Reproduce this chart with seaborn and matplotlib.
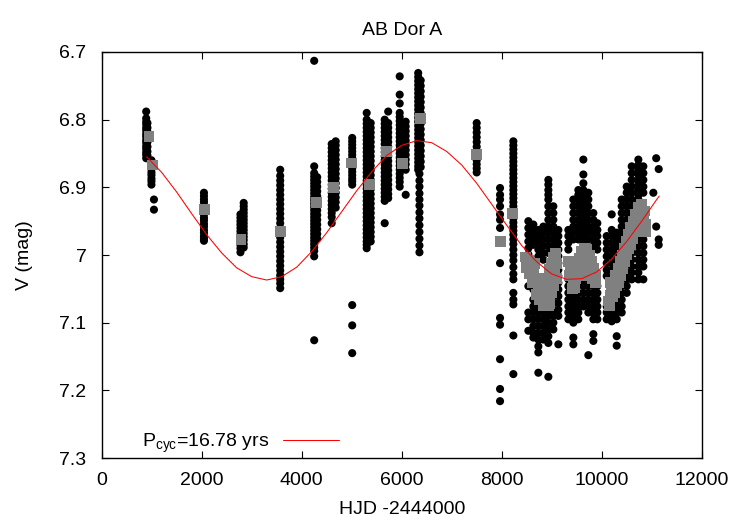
"""AB Dor A: V-band light curve with seasonal means and cycle fit."""
import numpy as np
import pandas as pd
import matplotlib
matplotlib.use("Agg")
import matplotlib.pyplot as plt
import seaborn as sns
from matplotlib.ticker import FuncFormatter, MultipleLocator

sns.set_theme(style="ticks")
plt.rcParams["font.family"] = ["Liberation Sans", "DejaVu Sans"]
plt.rcParams["mathtext.default"] = "regular"
plt.rcParams["font.size"] = 14
plt.rcParams.update({"text.color": "black", "axes.labelcolor": "black",
                     "xtick.color": "black", "ytick.color": "black"})

# --- photometry, one entry per observing column (HJD-2444000, list of V mags)
early_hjd = [890, 915, 995, 1045, 2045, 2775, 2840, 3570, 4250, 4310,
             4600, 4680, 5010, 5300, 5380, 5660, 5730, 5960, 6080,
             6330, 6380, 6355]
early_v = [
    [6.788, 6.798, 6.803, 6.807, 6.812, 6.816, 6.821, 6.825, 6.830, 6.834, 6.839, 6.843, 6.848, 6.852, 6.857],
    [6.805, 6.812, 6.818, 6.826, 6.833, 6.840, 6.847, 6.853],
    [6.860, 6.864, 6.869, 6.873, 6.878, 6.882, 6.887, 6.891, 6.896],
    [6.918, 6.933],
    [6.908, 6.913, 6.918, 6.922, 6.927, 6.931, 6.936, 6.940, 6.945, 6.949, 6.954, 6.958, 6.963, 6.967, 6.972, 6.976, 6.979],
    [6.940, 6.945, 6.950, 6.955, 6.960, 6.965, 6.970, 6.975, 6.980, 6.985, 6.990, 6.996],
    [6.923, 6.928, 6.933, 6.938, 6.943, 6.948, 6.953, 6.958, 6.963, 6.968, 6.973, 6.978, 6.984, 6.989],
    [6.874, 6.883, 6.890, 6.897, 6.904, 6.911, 6.918, 6.925, 6.932, 6.939, 6.946, 6.953, 6.960,
     6.967, 6.974, 6.981, 6.988, 6.995, 7.002, 7.009, 7.016, 7.023, 7.030, 7.036, 7.042, 7.049],
    [6.713, 6.869, 6.879, 6.884, 6.889, 6.894, 6.899, 6.904, 6.909, 6.914, 6.919, 6.924, 6.929, 6.934,
     6.939, 6.944, 6.949, 6.954, 6.959, 6.964, 6.969, 6.974, 6.979, 6.984, 6.989, 6.994, 7.002, 7.126],
    [6.885, 6.892, 6.899, 6.906, 6.913, 6.920, 6.927, 6.934, 6.941, 6.948, 6.955, 6.962, 6.969, 6.976],
    [6.836, 6.842, 6.848, 6.854, 6.860, 6.866, 6.872, 6.878, 6.884, 6.890, 6.896, 6.902, 6.908, 6.914,
     6.920, 6.926, 6.932, 6.938, 6.944, 6.953],
    [6.832, 6.838, 6.845, 6.852, 6.859, 6.866, 6.873, 6.880, 6.887, 6.894, 6.901, 6.908, 6.915, 6.922, 6.930],
    [6.827, 6.832, 6.837, 6.842, 6.847, 6.852, 6.857, 6.862, 6.867, 6.872, 6.877, 6.882, 6.887, 6.891,
     6.896, 7.074, 7.104, 7.145],
    [6.790, 6.800, 6.806, 6.812, 6.818, 6.824, 6.830, 6.836, 6.842, 6.848, 6.854, 6.860, 6.866, 6.872,
     6.878, 6.884, 6.890, 6.896, 6.902, 6.908, 6.914, 6.920, 6.926, 6.932, 6.938, 6.944, 6.950, 6.956,
     6.962, 6.968, 6.974, 6.980, 6.985, 6.990],
    [6.805, 6.812, 6.819, 6.826, 6.833, 6.840, 6.847, 6.854, 6.861, 6.868, 6.875, 6.882, 6.889, 6.896,
     6.903, 6.910, 6.917, 6.924, 6.931, 6.938, 6.945, 6.952, 6.959, 6.966, 6.973, 6.980],
    [6.800, 6.806, 6.812, 6.818, 6.824, 6.830, 6.836, 6.842, 6.848, 6.854, 6.860, 6.866, 6.872, 6.878,
     6.884, 6.890, 6.896, 6.902, 6.908, 6.914, 6.920, 6.953],
    [6.788, 6.805, 6.812, 6.819, 6.826, 6.833, 6.840, 6.847, 6.854, 6.861, 6.868, 6.875, 6.882, 6.889,
     6.896, 6.903, 6.910, 6.916],
    [6.736, 6.763, 6.776, 6.790, 6.796, 6.802, 6.808, 6.814, 6.820, 6.826, 6.832, 6.838, 6.844, 6.850,
     6.856, 6.862, 6.868, 6.874, 6.880, 6.886, 6.892, 6.899],
    [6.803, 6.810, 6.817, 6.824, 6.831, 6.838, 6.845, 6.852, 6.859, 6.866, 6.874, 6.911],
    [6.731, 6.737, 6.743, 6.749, 6.755, 6.761, 6.767, 6.773, 6.779, 6.785, 6.791, 6.797, 6.803, 6.809,
     6.815, 6.821, 6.827, 6.833, 6.839, 6.845, 6.851, 6.857, 6.863, 6.869, 6.874],
    [6.742, 6.750, 6.758, 6.766, 6.774, 6.782, 6.790, 6.798, 6.806, 6.814, 6.822, 6.830, 6.838, 6.846,
     6.854, 6.862, 6.870],
    [6.880, 6.890, 6.899, 6.909, 6.918, 6.927, 6.937, 6.946, 6.956, 6.966, 6.976, 6.986, 6.996],
]

late_hjd = [7500, 7967, 8233,
            8533, 8633, 8733, 8833, 8933, 9033, 9133,
            9333, 9433, 9533, 9633, 9733, 9833, 9913,
            10100, 10200, 10300, 10400, 10500,
            10600, 10733, 10833, 11033, 11090, 11140]
late_v = [
    [6.805, 6.812, 6.819, 6.826, 6.833, 6.840, 6.847, 6.853, 6.860, 6.866, 6.872, 6.878],
    [6.901, 6.911, 6.918, 6.928, 6.940, 6.948, 6.960, 7.012, 7.093, 7.103, 7.154, 7.198, 7.216],
    [6.832, 6.838, 6.844, 6.850, 6.856, 6.862, 6.868, 6.874, 6.880, 6.886, 6.892, 6.898, 6.904, 6.910,
     6.916, 6.922, 6.928, 6.934, 6.940, 6.946, 6.952, 6.958, 6.964, 6.970, 6.977, 6.984, 6.992, 7.000,
     7.008, 7.018, 7.028, 7.036, 7.056, 7.066, 7.073, 7.119, 7.176],
    [6.950, 6.960, 6.970, 6.980, 6.990, 6.999, 7.046, 7.085, 7.095, 7.112],
    [6.955, 6.965, 6.975, 6.985, 7.026, 7.036, 7.051, 7.066, 7.076, 7.085, 7.095, 7.105, 7.115, 7.122],
    [6.963, 6.972, 6.982, 6.992, 7.002, 7.066, 7.076, 7.085, 7.095, 7.105, 7.115, 7.125, 7.135, 7.144, 7.174],
    [6.958, 6.967, 6.977, 6.987, 6.997, 7.007, 7.076, 7.085, 7.095, 7.105, 7.115, 7.125],
    [6.889, 6.896, 6.904, 6.911, 6.918, 6.928, 6.938, 6.948, 6.958, 6.967, 6.977, 6.987, 6.997,
     7.081, 7.090, 7.100, 7.110, 7.120, 7.130, 7.180],
    [6.928, 6.938, 6.948, 6.958, 6.967, 6.977, 6.987, 7.051, 7.061, 7.071, 7.081, 7.090, 7.100, 7.110],
    [6.963, 6.972, 6.982, 6.992, 7.002, 7.012, 7.022, 7.031, 7.041, 7.051, 7.061, 7.071, 7.081, 7.090, 7.132],
    [6.963, 6.972, 6.982, 6.992, 7.036, 7.046, 7.056, 7.066, 7.076, 7.085, 7.095],
    [6.918, 6.928, 6.938, 6.948, 6.958, 6.967, 6.977, 7.051, 7.061, 7.071, 7.081, 7.090, 7.100, 7.122, 7.132],
    [6.904, 6.911, 6.918, 6.928, 6.938, 6.948, 6.958, 6.967, 6.977, 7.056, 7.066, 7.076, 7.085, 7.095],
    [6.859, 6.881, 6.894, 6.904, 6.913, 6.923, 6.933, 6.943, 6.953, 6.963, 6.972, 6.982,
     7.036, 7.046, 7.056, 7.066, 7.076],
    [6.908, 6.918, 6.928, 6.938, 6.948, 6.958, 6.967, 6.977, 7.036, 7.046, 7.056, 7.066, 7.076, 7.085, 7.148],
    [6.938, 6.948, 6.958, 6.967, 6.977, 6.987, 7.036, 7.046, 7.056, 7.066, 7.076, 7.085, 7.095, 7.117, 7.127],
    [6.953, 6.963, 6.972, 6.982, 6.992, 7.046, 7.056, 7.066, 7.076, 7.085, 7.095],
    [6.972, 6.982, 6.992, 7.002, 7.012, 7.022, 7.031, 7.076, 7.085, 7.095],
    [6.940, 6.963, 6.972, 6.982, 6.992, 7.002, 7.012, 7.022, 7.081, 7.090, 7.098],
    [6.967, 6.977, 6.987, 6.997, 7.007, 7.066, 7.076, 7.085, 7.095, 7.120, 7.134],
    [6.918, 6.928, 6.938, 6.948, 6.958, 6.967, 6.977, 6.987, 7.046, 7.056, 7.066, 7.076, 7.085],
    [6.899, 6.908, 6.918, 6.928, 6.938, 6.948, 6.958, 6.967, 7.026, 7.036, 7.046, 7.056],
    [6.869, 6.879, 6.889, 6.899, 6.908, 6.918, 6.928, 6.938, 6.948, 6.997, 7.007, 7.017, 7.026, 7.036],
    [6.859, 6.867, 6.874, 6.881, 6.889, 6.896, 6.904, 6.911, 6.918, 6.928, 6.977, 6.987, 6.997,
     7.007, 7.017, 7.026, 7.036],
    [6.869, 6.879, 6.889, 6.899, 6.908, 6.967, 6.977, 6.987, 6.997, 7.007, 7.017, 7.036],
    [6.908],
    [6.857, 6.958],
    [6.873, 6.977, 6.985],
]

# --- seasonal / nightly means (grey squares)
mean_hjd = [946, 1013, 2053, 2786, 3573, 4300, 4633, 5000, 5347, 5700, 6013, 6367, 7500, 7967, 8220,
            # 1990s run, first dip
            8470, 8530, 8580, 8630, 8680, 8730, 8780, 8830, 8880, 8930, 8960, 8900, 8930, 8960,
            9000, 9040, 9080, 9000, 9060, 8750, 8820, 8650,
            8500, 8560, 8620, 8700, 8760, 8830, 8900, 8960, 9000, 9040, 9090, 9100,
            # second dip
            9330, 9370, 9400, 9430, 9460, 9500, 9550, 9600, 9650, 9700, 9750, 9800, 9840, 9870,
            9620, 9700, 9760, 9480,
            9350, 9420, 9550, 9650, 9750, 9820, 9880, 9600,
            # rise
            10130, 10170, 10200, 10240, 10280, 10330, 10370, 10410, 10450, 10500, 10540, 10580,
            10630, 10680, 10730, 10800, 10850, 10880, 10170, 10250, 10330, 10420, 10500, 10580,
            10650, 10720,
            10150, 10210, 10290, 10370, 10450, 10530, 10610, 10690, 10760, 10830, 10870]
mean_v = [6.825, 6.867, 6.933, 6.977, 6.965, 6.922, 6.900, 6.864, 6.896, 6.847, 6.865, 6.798, 6.852, 6.980, 6.939,
          7.003, 7.008, 7.018, 7.028, 7.040, 7.050, 7.058, 7.065, 7.072, 7.075, 7.062, 7.050, 7.036, 7.022,
          7.012, 7.003, 6.998, 7.040, 7.025, 7.035, 7.045, 7.012,
          7.018, 7.028, 7.040, 7.058, 7.066, 7.074, 7.075, 7.072, 7.055, 7.045, 7.012, 7.035,
          7.010, 7.020, 7.030, 7.040, 7.048, 7.020, 7.005, 6.995, 6.990, 6.992, 7.000, 7.010, 7.020, 7.030,
          7.015, 7.020, 7.025, 7.035,
          7.030, 7.050, 7.020, 7.005, 7.012, 7.035, 7.040, 7.030,
          7.068, 7.060, 7.050, 7.040, 7.030, 7.020, 7.010, 7.000, 6.990, 6.980, 6.970, 6.960,
          6.950, 6.940, 6.930, 6.925, 6.935, 6.955, 7.040, 7.055, 7.040, 7.020, 7.000, 6.985,
          6.965, 6.950,
          7.075, 7.062, 7.045, 7.030, 7.010, 6.990, 6.975, 6.958, 6.945, 6.945, 6.965]

# --- cycle fit
fit_hjd = [900, 1200, 1500, 1800, 2100, 2400, 2700, 3000, 3300, 3600, 3900, 4200, 4500, 4800,
           5100, 5400, 5700, 6000, 6300, 6600, 6900, 7200, 7500, 7800, 8100, 8400, 8700, 9000,
           9300, 9600, 9900, 10200, 10500, 10800, 11100, 11150]
fit_v = [6.855, 6.878, 6.907, 6.939, 6.970, 6.997, 7.019, 7.032, 7.037, 7.032, 7.018, 6.995,
         6.967, 6.936, 6.905, 6.877, 6.853, 6.838, 6.831, 6.834, 6.847, 6.867, 6.894, 6.925,
         6.956, 6.986, 7.010, 7.028, 7.036, 7.035, 7.025, 7.006, 6.980, 6.950, 6.918, 6.913]

FIT_LABEL = "P$_{cyc}$=16.78 yrs"


def expand(hjd_cols, v_cols):
    xs, ys = [], []
    for x, vs in zip(hjd_cols, v_cols):
        xs += [x] * len(vs)
        ys += vs
    return pd.DataFrame({"hjd": xs, "v": ys})


def main():
    obs = pd.concat([expand(early_hjd, early_v), expand(late_hjd, late_v)], ignore_index=True)
    means = pd.DataFrame({"hjd": mean_hjd, "v": mean_v})
    fit = pd.DataFrame({"hjd": fit_hjd, "v": fit_v})

    fig = plt.figure(figsize=(7.5, 5.25), dpi=100)
    ax = fig.add_axes([101.7 / 750, 1 - 458 / 525, 600 / 750, 406 / 525])

    sns.scatterplot(data=obs, x="hjd", y="v", ax=ax, color="black", s=34,
                    edgecolor="none", linewidth=0, zorder=2, legend=False)
    sns.scatterplot(data=means, x="hjd", y="v", ax=ax, color="#808080", marker="s", s=62,
                    edgecolor="none", linewidth=0, zorder=3, legend=False)
    sns.lineplot(data=fit, x="hjd", y="v", ax=ax, color="red", lw=0.75, sort=False,
                 estimator=None, zorder=4, label=FIT_LABEL)

    ax.set_xlim(0, 12000)
    ax.set_ylim(7.3, 6.7)
    ax.xaxis.set_major_locator(MultipleLocator(2000))
    ax.yaxis.set_major_locator(MultipleLocator(0.1))
    ax.yaxis.set_major_formatter(FuncFormatter(lambda v, _: f"{v:g}"))
    ax.tick_params(direction="in", top=True, right=True, length=5, width=0.8,
                   labelsize=14, colors="black")
    ax.tick_params(axis="x", pad=10)
    ax.tick_params(axis="y", pad=11)
    for sp in ax.spines.values():
        sp.set_linewidth(1.0)
        sp.set_color("black")

    ax.set_title("AB Dor A", fontsize=14, pad=12)
    ax.set_xlabel("HJD -2444000", fontsize=14, labelpad=9)
    ax.set_ylabel("V (mag)", fontsize=14, labelpad=19)

    ax.legend(loc="center left", bbox_to_anchor=(0.067, 0.036), frameon=False,
              markerfirst=False, handlelength=2.9, handletextpad=0.7,
              borderpad=0, borderaxespad=0, fontsize=14)

    fig.savefig("out.png", dpi=100)
    plt.close(fig)


if __name__ == "__main__":
    main()
